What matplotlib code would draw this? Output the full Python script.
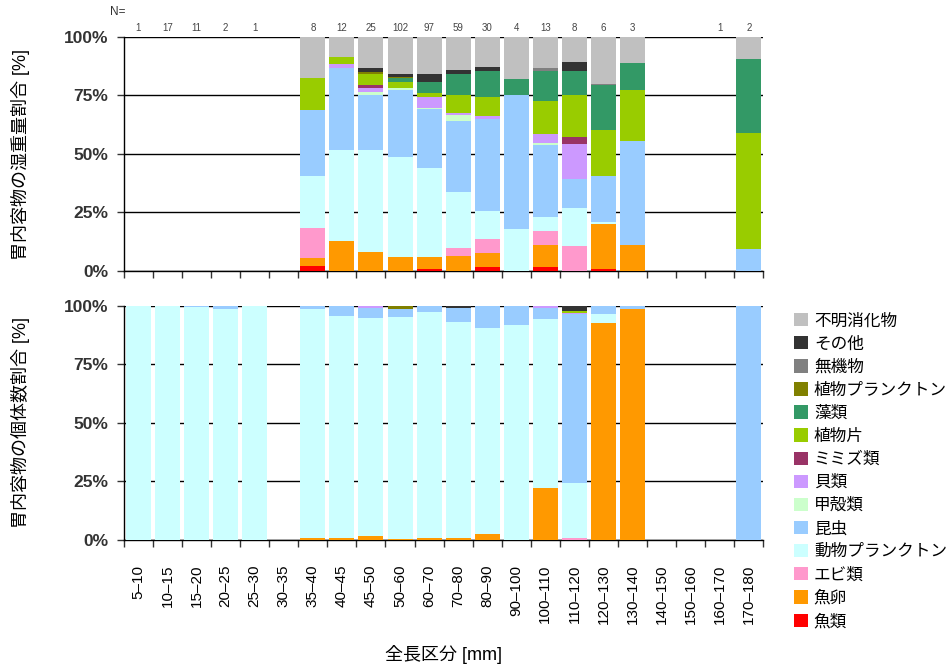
import numpy as np
import matplotlib
matplotlib.use('Agg')
import matplotlib.pyplot as plt
from matplotlib.patches import Patch

plt.rcParams['font.family'] = ['Liberation Sans', 'Noto Sans CJK JP']

# 全長区分
classes = ['5–10', '10–15', '15–20', '20–25', '25–30', '30–35', '35–40', '40–45',
           '45–50', '50–60', '60–70', '70–80', '80–90', '90–100', '100–110',
           '110–120', '120–130', '130–140', '140–150', '150–160', '160–170', '170–180']
n_fish = ['1', '17', '11', '2', '1', '', '8', '12', '25', '102', '97', '59', '30',
          '4', '13', '8', '6', '3', '', '', '1', '2']

# 餌項目 (下から積む順)
items = ['魚類', '魚卵', 'エビ類', '動物プランクトン', '昆虫', '甲殻類', '貝類', 'ミミズ類',
         '植物片', '藻類', '植物プランクトン', '無機物', 'その他', '不明消化物']
colors = ['#FF0000', '#FF9900', '#FF99CC', '#CCFFFF', '#99CCFF', '#CCFFCC', '#CC99FF',
          '#993366', '#99CC00', '#339966', '#808000', '#808080', '#333333', '#C0C0C0']

# 湿重量割合 [%]
w_fish    = [0, 0, 0, 0, 0, 0, 2.3, 0, 0, 0, 1.0, 0, 1.8, 0, 1.8, 0, 1.0, 0, 0, 0, 0, 0]
w_roe     = [0, 0, 0, 0, 0, 0, 3.1, 12.8, 8.1, 6.0, 5.0, 6.4, 5.7, 0, 9.3, 0, 19.1, 11.1, 0, 0, 0, 0]
w_shrimp  = [0, 0, 0, 0, 0, 0, 13.1, 0, 0, 0, 0, 3.3, 6.3, 0, 6.0, 10.7, 0, 0, 0, 0, 0, 0]
w_zoopl   = [0, 0, 0, 0, 0, 0, 22.2, 38.9, 43.6, 42.6, 37.9, 23.9, 12.0, 17.9, 6.1, 16.1, 1.0, 0, 0, 0, 0, 0]
w_insect  = [0, 0, 0, 0, 0, 0, 28.1, 34.9, 23.4, 28.6, 25.2, 30.6, 39.0, 57.3, 30.6, 12.5, 19.6, 44.2, 0, 0, 0, 9.3]
w_crust   = [0, 0, 0, 0, 0, 0, 0, 0, 1.4, 1.0, 0.6, 2.5, 0, 0, 1.0, 0, 0, 0, 0, 0, 0, 0]
w_shell   = [0, 0, 0, 0, 0, 0, 0, 1.6, 1.7, 0, 4.4, 0.7, 1.4, 0, 3.6, 15.0, 0, 0, 0, 0, 0, 0]
w_worm    = [0, 0, 0, 0, 0, 0, 0, 0, 1.0, 0, 0, 0, 0, 0, 0, 3.1, 0, 0, 0, 0, 0, 0]
w_plant   = [0, 0, 0, 0, 0, 0, 13.7, 3.1, 4.7, 2.6, 2.1, 7.8, 8.0, 0, 14.2, 17.8, 19.3, 22.1, 0, 0, 0, 49.8]
w_algae   = [0, 0, 0, 0, 0, 0, 0, 0, 0, 1.7, 4.7, 9.0, 11.0, 6.7, 12.6, 10.4, 19.4, 11.4, 0, 0, 0, 31.4]
w_phyto   = [0, 0, 0, 0, 0, 0, 0, 0, 1.1, 0.5, 0, 0, 0, 0, 0, 0, 0, 0, 0, 0, 0, 0]
w_inorg   = [0, 0, 0, 0, 0, 0, 0, 0, 0, 0, 0, 0, 0, 0, 1.4, 0, 0.5, 0, 0, 0, 0, 0]
w_other   = [0, 0, 0, 0, 0, 0, 0, 0, 1.6, 1.2, 3.3, 1.8, 2.0, 0, 0, 3.7, 0, 0, 0, 0, 0, 0]
w_unknown = [0, 0, 0, 0, 0, 0, 17.5, 8.7, 13.4, 15.8, 15.8, 14.0, 12.8, 18.1, 13.4, 10.7, 20.1, 11.2, 0, 0, 0, 9.5]

# 個体数割合 [%]
c_fish    = [0] * 22
c_roe     = [0, 0, 0, 0, 0, 0, 0.6, 1.0, 1.6, 0.4, 1.0, 1.0, 2.6, 0, 22.3, 0, 92.7, 98.4, 0, 0, 0, 0]
c_shrimp  = [0, 0, 0, 0, 0, 0, 0, 0, 0, 0, 0, 0, 0, 0, 0, 0.6, 0, 0, 0, 0, 0, 0]
c_zoopl   = [100, 100, 99.3, 98.5, 100, 0, 97.8, 94.7, 93.1, 94.9, 96.3, 92.2, 88.0, 91.6, 71.9, 23.8, 3.7, 0, 0, 0, 0, 0]
c_insect  = [0, 0, 0.7, 1.5, 0, 0, 1.6, 4.3, 4.3, 3.1, 2.7, 5.7, 9.4, 8.4, 4.8, 72.0, 3.6, 1.6, 0, 0, 0, 100]
c_crust   = [0] * 22
c_shell   = [0, 0, 0, 0, 0, 0, 0, 0, 1.0, 0, 0, 0, 0, 0, 1.0, 0.7, 0, 0, 0, 0, 0, 0]
c_worm    = [0] * 22
c_plant   = [0, 0, 0, 0, 0, 0, 0, 0, 0, 0, 0, 0, 0, 0, 0, 0.6, 0, 0, 0, 0, 0, 0]
c_algae   = [0] * 22
c_phyto   = [0, 0, 0, 0, 0, 0, 0, 0, 0, 1.6, 0, 0, 0, 0, 0, 0, 0, 0, 0, 0, 0, 0]
c_inorg   = [0] * 22
c_other   = [0, 0, 0, 0, 0, 0, 0, 0, 0, 0, 0, 1.1, 0, 0, 0, 2.3, 0, 0, 0, 0, 0, 0]
c_unknown = [0] * 22

wet = [w_fish, w_roe, w_shrimp, w_zoopl, w_insect, w_crust, w_shell, w_worm,
       w_plant, w_algae, w_phyto, w_inorg, w_other, w_unknown]
cnt = [c_fish, c_roe, c_shrimp, c_zoopl, c_insect, c_crust, c_shell, c_worm,
       c_plant, c_algae, c_phyto, c_inorg, c_other, c_unknown]


def drawStack(ax, series):
    x = np.arange(len(classes))
    bottom = np.zeros(len(classes))
    for vals, col in zip(series, colors):
        vals = np.array(vals, dtype=float)
        ax.bar(x, vals, width=0.86, bottom=bottom, color=col, edgecolor='none', zorder=3)
        bottom += vals
    ax.set_xlim(-0.5, len(classes) - 0.5)
    ax.set_ylim(0, 100)
    ax.set_yticks([0, 25, 50, 75, 100])
    ax.set_yticklabels(['0%', '25%', '50%', '75%', '100%'], fontsize=12.5,
                       fontweight='bold', color='#333333')
    ax.yaxis.grid(True, color='black', linewidth=1.0, zorder=0)
    ax.set_axisbelow(True)
    ax.set_xticks(x)
    ax.set_xticks(np.arange(-0.5, len(classes)), minor=True)
    ax.tick_params(axis='x', which='major', length=0, pad=18)
    ax.tick_params(axis='x', which='minor', length=5, width=1, color='#333333')
    ax.tick_params(axis='y', length=5, width=1, color='#333333', pad=6)
    for s in ['top', 'right']:
        ax.spines[s].set_visible(False)
    for s in ['left', 'bottom']:
        ax.spines[s].set_linewidth(1.0)
        ax.spines[s].set_color('black')


fig = plt.figure(figsize=(9.53, 6.69), dpi=100, facecolor='white')
ax1 = fig.add_axes([0.130, 0.595, 0.671, 0.350])
ax2 = fig.add_axes([0.130, 0.193, 0.671, 0.350])

drawStack(ax1, wet)
drawStack(ax2, cnt)

ax1.set_xticklabels([])
ax2.set_xticklabels(classes, rotation=90, fontsize=11, va='top')

# N= 標本数
for i, n in enumerate(n_fish):
    ax1.text(i, 101.5, n, ha='center', va='bottom', fontsize=7, color='#444444')
fig.text(0.124, 0.982, 'N=', ha='center', va='center', fontsize=8.5, color='#333333')

fig.text(0.022, 0.769, '胃内容物の湿重量割合 [%]', rotation=90, ha='center', va='center', fontsize=13)
fig.text(0.022, 0.368, '胃内容物の個体数割合 [%]', rotation=90, ha='center', va='center', fontsize=13)
fig.text(0.465, 0.021, '全長区分 [mm]', ha='center', va='center', fontsize=13)

handles = [Patch(facecolor=c, edgecolor='none') for c in colors[::-1]]
fig.legend(handles, items[::-1], loc='upper left', bbox_to_anchor=(0.826, 0.542),
           frameon=False, fontsize=12, handlelength=0.85, handleheight=0.85,
           handletextpad=0.35, labelspacing=0.46, borderaxespad=0)

plt.savefig('out.png', dpi=100)
